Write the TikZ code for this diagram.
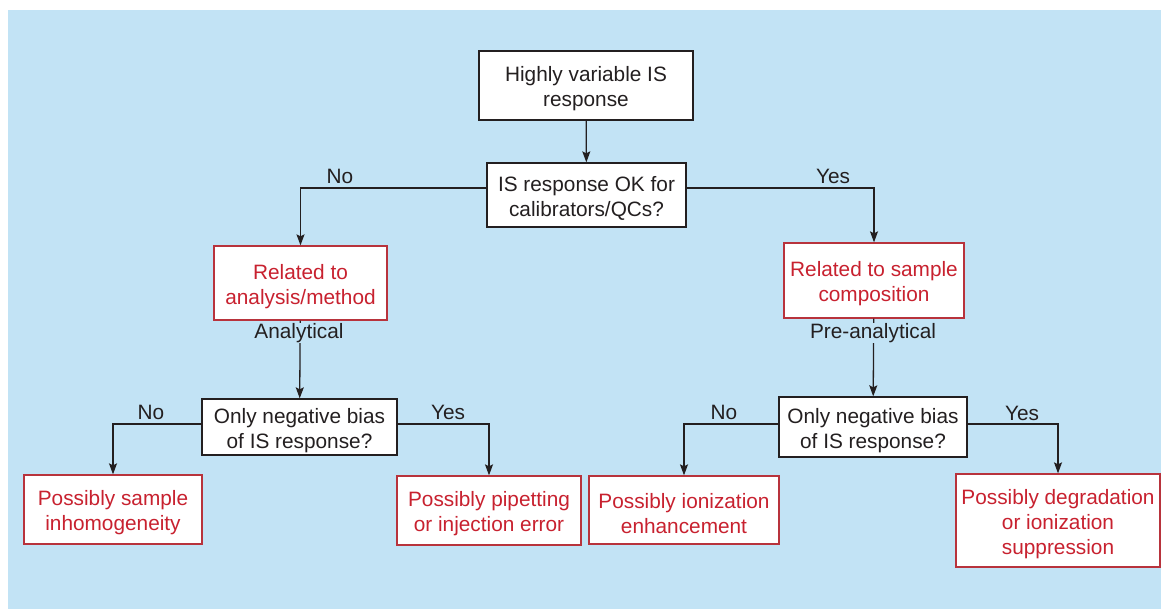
\documentclass[tikz,border=0pt]{standalone}
\usepackage{fontspec}
\setmainfont{Liberation Sans}
\usetikzlibrary{arrows.meta,calc}
\definecolor{bgblue}{HTML}{C2E3F5}
\definecolor{redtxt}{HTML}{C8212F}
\definecolor{redline}{HTML}{B8333C}
\definecolor{darktxt}{HTML}{231F20}
\newcommand\myup{\rule{0pt}{21.5pt}}
\tikzset{
  boxbase/.style={line width=1.3pt, fill=white, align=center, inner sep=0pt,
    font=\fontsize{20.8}{25}\selectfont},
  box/.style={boxbase, draw=darktxt, text=darktxt},
  redbox/.style={boxbase, draw=redline, text=redtxt},
  conn/.style={draw=darktxt, line width=1.3pt, -{Stealth[length=11pt,width=8pt,inset=2pt]}},
  lbl/.style={text=darktxt, font=\fontsize{20.8}{25}\selectfont, inner sep=1pt},
  sublbl/.style={lbl, fill=bgblue, inner sep=0.5pt}
}
\begin{document}
\begin{tikzpicture}[x=1pt,y=-1pt]
\useasboundingbox (0,0) rectangle (1161,609);
\fill[bgblue] (8,10) rectangle (1161,609);

\node[box, minimum width=214pt, minimum height=69pt] (top) at (586,85.5) {\myup Highly variable IS\\response};
\node[box, minimum width=199pt, minimum height=64pt] (q1) at (586.5,195) {\myup IS response OK for\\calibrators/QCs?};

\node[redbox, minimum width=173pt, minimum height=74pt] (A) at (300.5,283) {\myup Related to\\analysis/method};
\node[redbox, minimum width=180pt, minimum height=75pt] (B) at (874,280.5) {\myup Related to sample\\composition};

\node[box, minimum width=195pt, minimum height=56pt] (dL) at (299.5,427) {\myup Only negative bias\\of IS response?};
\node[box, minimum width=188pt, minimum height=60pt] (dR) at (873,427) {\myup Only negative bias\\of IS response?};

\node[redbox, minimum width=178pt, minimum height=69pt] (L1) at (113,509.5) {\myup Possibly sample\\inhomogeneity};
\node[redbox, minimum width=184pt, minimum height=69pt] (L2) at (489,510.5) {\myup Possibly pipetting\\or injection error};
\node[redbox, minimum width=190pt, minimum height=68pt] (R1) at (684,510) {\myup Possibly ionization\\enhancement};
\node[redbox, minimum width=204pt, minimum height=93pt] (R2) at (1058,520.5) {\myup Possibly degradation\\or ionization\\suppression};

\draw[conn] (top) -- (q1);
\draw[conn] ([yshift=7pt]q1.west) -| (A.north);
\draw[conn] ([yshift=7pt]q1.east) -| (B.north);
\draw[conn] (A) -- (dL);
\draw[conn] (B) -- (dR);
\draw[conn] ([yshift=3pt]dL.west) -| (L1.north);
\draw[conn] ([yshift=3pt]dL.east) -| (L2.north);
\draw[conn] ([yshift=3pt]dR.west) -| (R1.north);
\draw[conn] ([yshift=3pt]dR.east) -| (R2.north);

\node[sublbl] (an) at (299,333) {Analytical};
\node[sublbl] (pa) at (873,333) {Pre-analytical};

\node[lbl] (no1) at (340,176) {No};
\node[lbl] (yes1) at (833,176) {Yes};
\node[lbl] (no2) at (151,412) {No};
\node[lbl] (yes2) at (448,412) {Yes};
\node[lbl] (no3) at (724,412) {No};
\node[lbl] (yes3) at (1022,413) {Yes};
\end{tikzpicture}
\end{document}
